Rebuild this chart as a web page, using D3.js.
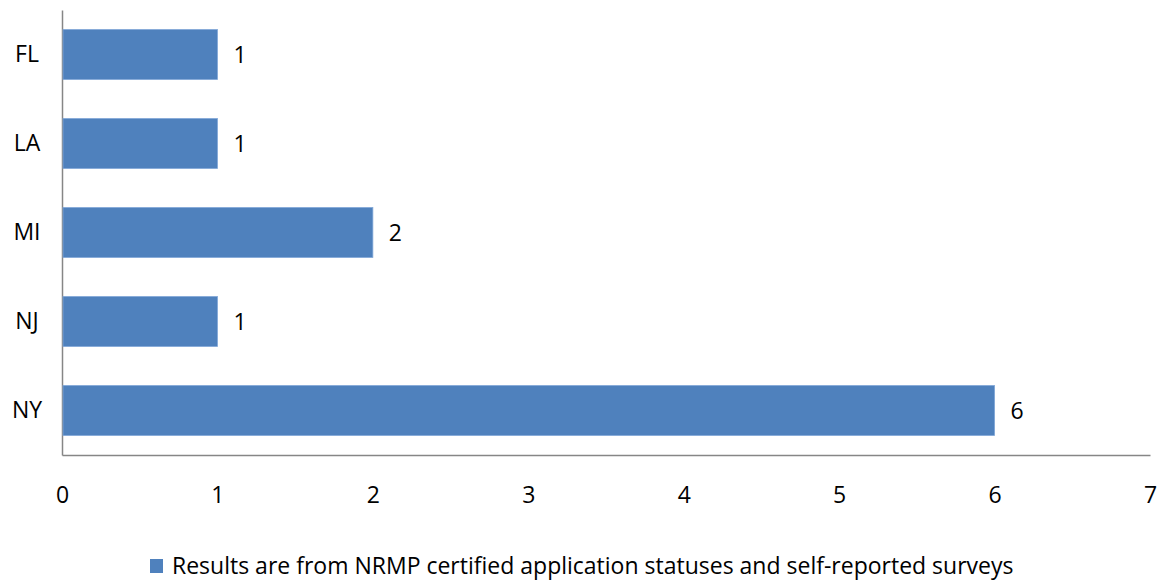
<!DOCTYPE html>
<html>
<head>
<meta charset="utf-8">
<script src="https://cdn.jsdelivr.net/npm/d3@7"></script>
<style>
  body { margin: 0; background: #fff; }
  text { font-family: "Open Sans", sans-serif; fill: #000; }
</style>
</head>
<body>
<div id="chart"></div>
<script>
// datos
let states = ['FL', 'LA', 'MI', 'NJ', 'NY'];
let counts = [1, 1, 2, 1, 6];
let xTicks = [0, 1, 2, 3, 4, 5, 6, 7];
let legendLabel = 'Results are from NRMP certified application statuses and self-reported surveys';

let width = 1163, height = 580;
let margin = {top: 10, right: 13, bottom: 125, left: 62};
let innerW = width - margin.left - margin.right,
    innerH = height - margin.top - margin.bottom;
let barColor = '#4f81bd', axisColor = '#868686';
let fontSize = '23px';

let svg = d3.select('#chart').append('svg')
    .attr('width', width)
    .attr('height', height);

let chart = svg.append('g')
    .attr('transform', 'translate(' + margin.left + ',' + margin.top + ')');

let x = d3.scaleLinear().domain([0, 7]).range([0, innerW]);
let y = d3.scaleBand().domain(states).range([0, innerH]).paddingInner(0.44).paddingOuter(0.22);

// ejes
let xAxis = chart.append('g')
    .attr('transform', 'translate(0,' + innerH + ')')
    .call(d3.axisBottom(x).tickValues(xTicks).tickSize(0).tickPadding(32).tickFormat(d3.format('d')));
xAxis.select('.domain').attr('stroke', axisColor).attr('stroke-width', 1.5);
xAxis.selectAll('text').style('font-size', fontSize);

let yAxis = chart.append('g')
    .call(d3.axisLeft(y).tickSize(0).tickPadding(25));
yAxis.select('.domain').attr('stroke', axisColor).attr('stroke-width', 1.5);
yAxis.selectAll('text').style('font-size', fontSize).attr('text-anchor', 'middle').attr('dx', '-10');

// barras
chart.selectAll('.bar')
    .data(states)
    .enter()
    .append('rect')
    .attr('class', 'bar')
    .attr('x', x(0) + 1)
    .attr('y', function(d) { return y(d); })
    .attr('width', function(d, i) { return x(counts[i]) - x(0) - 1; })
    .attr('height', y.bandwidth())
    .attr('fill', barColor)
    .attr('stroke', '#7fa6d6')
    .attr('stroke-width', 0.8);

// etiquetas de valor
chart.selectAll('.val')
    .data(states)
    .enter()
    .append('text')
    .attr('class', 'val')
    .attr('x', function(d, i) { return x(counts[i]) + 16; })
    .attr('y', function(d) { return y(d) + y.bandwidth() / 2; })
    .attr('dy', '0.35em')
    .style('font-size', fontSize)
    .text(function(d, i) { return counts[i]; });

// leyenda
let legend = svg.append('g').attr('transform', 'translate(150,559)');
legend.append('rect').attr('width', 13).attr('height', 14).attr('fill', barColor);
legend.append('text')
    .attr('x', 22)
    .attr('y', 7)
    .attr('dy', '0.35em')
    .style('font-size', fontSize)
    .text(legendLabel);
</script>
</body>
</html>
